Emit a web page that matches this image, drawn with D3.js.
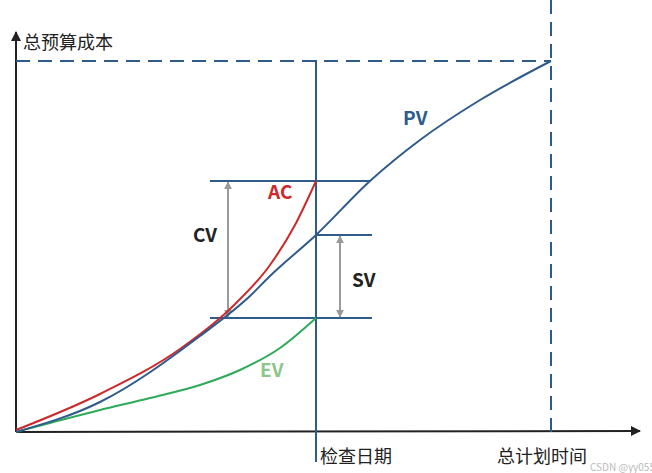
<!DOCTYPE html>
<html><head><meta charset="utf-8">
<script src="https://cdn.jsdelivr.net/npm/d3@7"></script>
<style>body{margin:0;background:#fff}text{font-family:"Noto Sans CJK SC","Noto Sans",sans-serif}</style>
</head><body><div id="c"></div>
<script>
// values: x = time units, y = cost units
const checkT = 300, totalT = 535, budget = 371;
const pv = [[0,0],[84,30],[184,96],[234,136],[254,156],[300,197],[354,251],[404,292],[464,332],[535,371]];
const ac = [[0,2],[84,38],[164,83],[214,123],[254,167],[279,207],[300,251]];
const ev = [[0,0],[34,9],[84,22],[134,34],[184,47],[224,62],[264,84],[300,114]];
const labels = [["PV",387,307,"#2f5a8c"],["AC",252,233,"#cc2a2a"],["CV",177,190,"#222"],["SV",336,145,"#222"],["EV",244,55,"#8dc58d"]];

const W = 652, H = 473;
const x = d3.scaleLinear().domain([0, 624]).range([16, 640]);
const y = d3.scaleLinear().domain([0, 400]).range([432, 32]);
const blue = "#2f5a8c", gray = "#999";

const svg = d3.select("#c").append("svg").attr("width", W).attr("height", H);
const defs = svg.append("defs");
function marker(id, color, w) {
  defs.append("marker").attr("id", id).attr("viewBox", "0 0 10 10").attr("refX", 9).attr("refY", 5)
    .attr("markerWidth", w).attr("markerHeight", w).attr("orient", "auto-start-reverse")
    .append("path").attr("d", "M0,0L10,5L0,10z").attr("fill", color);
}
marker("ax", "#222", 5); marker("ar", gray, 4);

// axes
svg.append("line").attr("x1", x(0)).attr("y1", y(0)).attr("x2", x(624)).attr("y2", y(1))
  .attr("stroke", "#222").attr("stroke-width", 2).attr("marker-end", "url(#ax)");
svg.append("line").attr("x1", x(0)).attr("y1", y(0)).attr("x2", x(0)).attr("y2", y(400))
  .attr("stroke", "#222").attr("stroke-width", 2).attr("marker-end", "url(#ax)");

// reference lines
svg.append("line").attr("x1", x(0)).attr("x2", x(totalT)).attr("y1", y(budget)).attr("y2", y(budget))
  .attr("stroke", blue).attr("stroke-width", 2).attr("stroke-dasharray", "14,8");
svg.append("line").attr("x1", x(totalT)).attr("x2", x(totalT)).attr("y1", 0).attr("y2", y(0))
  .attr("stroke", blue).attr("stroke-width", 2).attr("stroke-dasharray", "14,8");
svg.append("line").attr("x1", x(checkT)).attr("x2", x(checkT)).attr("y1", y(372)).attr("y2", y(-30))
  .attr("stroke", blue).attr("stroke-width", 2);

const acEnd = ac[ac.length-1][1], pvCheck = pv[5][1], evEnd = ev[ev.length-1][1];
[[194, 354, acEnd], [300, 356, pvCheck], [194, 356, evEnd]].forEach(([a, b, v]) =>
  svg.append("line").attr("x1", x(a)).attr("x2", x(b)).attr("y1", y(v)).attr("y2", y(v))
    .attr("stroke", blue).attr("stroke-width", 2));

// CV / SV arrows
[[212, evEnd, acEnd], [324, evEnd, pvCheck]].forEach(([t, a, b]) =>
  svg.append("line").attr("x1", x(t)).attr("x2", x(t)).attr("y1", y(a) - 1).attr("y2", y(b) + 1)
    .attr("stroke", gray).attr("stroke-width", 2)
    .attr("marker-start", "url(#ar)").attr("marker-end", "url(#ar)"));

// curves
const line = d3.line().x(d => x(d[0])).y(d => y(d[1])).curve(d3.curveMonotoneX);
[[ev, "#2eaa5a"], [ac, "#cc2a2a"], [pv, blue]].forEach(([d, c]) =>
  svg.append("path").attr("d", line(d)).attr("fill", "none").attr("stroke", c).attr("stroke-width", 2));

labels.forEach(([t, lx, ly, c]) =>
  svg.append("text").attr("x", x(lx)).attr("y", y(ly)).attr("fill", c)
    .attr("font-size", 19).attr("font-weight", "bold").attr("font-family", "Liberation Sans, Arial").text(t));

svg.append("text").attr("x", 23).attr("y", 49).attr("font-size", 18).attr("fill", "#222").text("总预算成本");
svg.append("text").attr("x", 320).attr("y", 463).attr("font-size", 18).attr("fill", "#222").text("检查日期");
svg.append("text").attr("x", 497).attr("y", 463).attr("font-size", 18).attr("fill", "#222").text("总计划时间");
svg.append("text").attr("x", 590).attr("y", 471).attr("font-size", 10).attr("fill", "#bbb")
  .attr("font-family", "DejaVu Sans Mono").text("CSDN @yy0551");
</script></body></html>
